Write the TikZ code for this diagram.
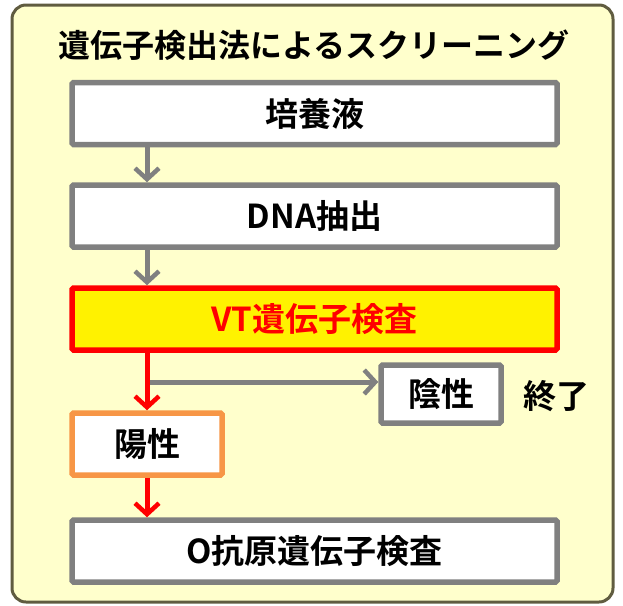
\documentclass[tikz,border=0pt]{standalone}
\usepackage{fontspec}
\setmainfont{Noto Sans CJK JP}[UprightFont={* Bold}, BoldFont={* Bold}]
\usepackage{tikz}
\usetikzlibrary{arrows.meta,shadows}
\definecolor{paleyellow}{RGB}{255,255,204}
\definecolor{framegray}{RGB}{96,92,64}
\definecolor{boxgray}{RGB}{128,128,128}
\definecolor{boxorange}{RGB}{247,150,70}

\begin{document}
\begin{tikzpicture}[x=1pt, y=-1pt, >={Straight Barb[length=11pt,width=24pt,line width=4.5pt]},
    every node/.style={font=\bfseries\fontsize{33}{36}\selectfont},
    stepbox/.style={rectangle, draw=boxgray, line width=5.5pt, fill=white, rounded corners=1.5pt,
        minimum width=485pt, minimum height=62pt, inner sep=0pt,
        drop shadow={shadow xshift=1.5pt, shadow yshift=-1.5pt, opacity=0.25}},
    hitbox/.style={stepbox, draw=red, fill=yellow, text=red},
    posbox/.style={stepbox, draw=boxorange, minimum width=150pt},
    negbox/.style={stepbox, minimum width=120pt, minimum height=58pt},
    grayline/.style={draw=boxgray, line width=5pt},
    redline/.style={draw=red, line width=5pt}]
        \useasboundingbox (0,0) rectangle (623,605);
        \draw[draw=framegray, line width=3pt, fill=paleyellow, rounded corners=14pt] (12,5) rectangle (613,602);

        \node[font=\bfseries\fontsize{32}{36}\selectfont] (title) at (314,45) {遺伝子検出法によるスクリーニング};
        \node[stepbox] (culture)  at (314.5,113.5) {培養液};
        \node[stepbox] (extract)  at (314.5,216)   {DNA抽出};
        \node[hitbox]  (vtcheck)  at (314.5,319)   {VT遺伝子検査};
        \node[posbox]  (positive) at (147,444)     {陽性};
        \node[negbox]  (negative) at (441,394)     {陰性};
        \node          (finish)   at (556,396)     {終了};
        \node[stepbox] (otest)    at (314.5,551)   {O抗原遺伝子検査};

        \coordinate (branch) at (150,382);

        % gray flow
        \draw[->, grayline] (culture.south -| positive.north) -- (extract.north -| positive.north);
        \draw[->, grayline] (extract.south -| positive.north) -- (vtcheck.north -| positive.north);
        \draw[->, grayline] (branch) -- (branch -| negative.west);
        % red flow
        \draw[->, redline]  (vtcheck.south -| positive.north) -- (positive.north);
        \draw[->, redline]  (positive.south) -- (otest.north -| positive.south);
\end{tikzpicture}
\end{document}
